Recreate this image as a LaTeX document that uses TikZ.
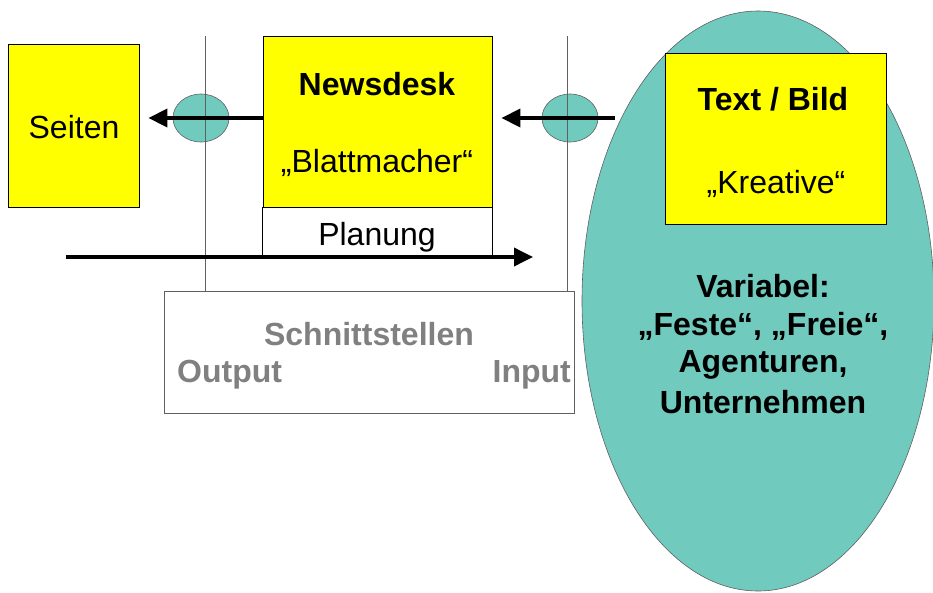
\documentclass[tikz,border=0pt]{standalone}
\usepackage{fontspec}
\setmainfont{Liberation Sans}
\usetikzlibrary{arrows.meta,shapes.geometric}
\definecolor{ybox}{RGB}{255,255,0}
\definecolor{tealfill}{RGB}{112,202,190}
\definecolor{gtxt}{RGB}{128,128,128}
\definecolor{gline}{RGB}{96,96,96}
\begin{document}
\begin{tikzpicture}[x=1pt,y=-1pt,
  ybox/.style={draw=black,line width=0.8pt,fill=ybox,inner sep=0pt,minimum width=#1},
  wbox/.style={draw=black,line width=0.8pt,fill=white,inner sep=0pt},
  lbl/.style={font=\fontsize{32}{38}\selectfont,inner sep=0pt,anchor=base},
  blbl/.style={font=\fontsize{32}{38}\selectfont\bfseries,inner sep=0pt,anchor=base},
  oval/.style={ellipse,draw=gline,line width=0.6pt,fill=tealfill,inner sep=0pt},
  vline/.style={draw=gline,line width=0.8pt},
  flow/.style={line width=3.6pt,-{Triangle[length=19pt,width=18pt]}}]
\useasboundingbox[fill=white] (0,0) rectangle (933,592);

% big ellipse and Text/Bild box
\node[oval,minimum width=352pt,minimum height=580pt] (big) at (758,301) {};
\node[ybox=221pt,minimum height=171pt] (textbild) at (775.5,138.5) {};
\node[blbl] (tb1) at (773,110) {Text / Bild};
\node[lbl] (tb2) at (776,193) {„Kreative“};
\node[blbl] (v1) at (763,297) {Variabel:};
\node[blbl] (v2) at (763,335) {„Feste“, „Freie“,};
\node[blbl] (v3) at (763,372) {Agenturen,};
\node[blbl] (v4) at (763,413) {Unternehmen};

% Seiten
\node[ybox=131pt,minimum height=163pt] (seiten) at (73.5,125.5) {};
\node[lbl] (st) at (74,138) {Seiten};

% Newsdesk + Planung
\node[ybox=229pt,minimum height=172pt] (newsdesk) at (377.5,122) {};
\node[blbl] (nd1) at (377,95) {Newsdesk};
\node[lbl] (nd2) at (377,172) {„Blattmacher“};
\node[wbox,minimum width=229pt,minimum height=47pt,draw=none] (planung) at (377.5,231.5) {};
\draw[line width=0.8pt] (planung.south west) -- (planung.north west) -- (planung.north east) -- (planung.south east);
\node[lbl] (pl) at (377,245) {Planung};

% Schnittstellen
\node[draw=gline,line width=0.8pt,fill=white,minimum width=410pt,minimum height=122pt,inner sep=0pt] (schnitt) at (369,352) {};
\node[blbl,text=gtxt] (sch) at (369,345) {Schnittstellen};
\node[blbl,text=gtxt,anchor=base west] (out) at (177,382) {Output};
\node[blbl,text=gtxt,anchor=base east] (in) at (571,382) {Input};

% small ovals and vertical lines
\node[oval,minimum width=56pt,minimum height=48pt] (ovL) at (201,118) {};
\node[oval,minimum width=56pt,minimum height=48pt] (ovR) at (570,118) {};
\coordinate (vL) at (205,36);
\coordinate (vR) at (567,36);
\draw[vline] (vL) -- (vL |- schnitt.north);
\draw[vline] (vR) -- (vR |- schnitt.north);

% arrows
\draw[flow,shorten >=9pt] (newsdesk.west |- ovL.center) -- (seiten.east |- ovL.center);
\coordinate (rin) at (615,118);
\draw[flow,shorten >=9pt] (rin) -- (newsdesk.east |- rin);
\coordinate (pa) at (66,257);
\coordinate (pb) at (533,257);
\draw[flow] (pa) -- (pb);
\end{tikzpicture}
\end{document}
